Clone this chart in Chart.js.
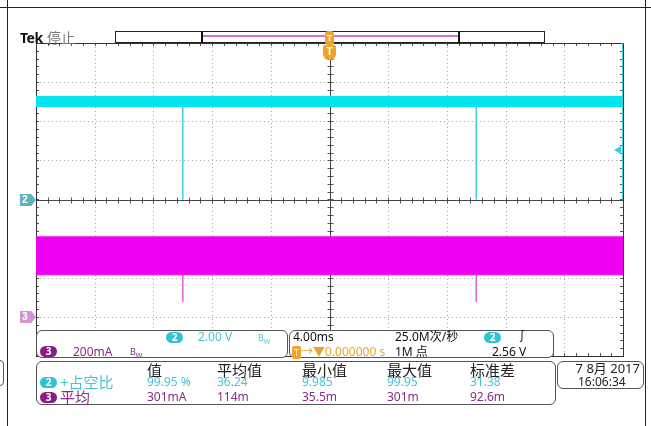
<!DOCTYPE html>
<html>
<head>
<meta charset="utf-8">
<script src="https://cdn.jsdelivr.net/npm/chart.js@4.4.1/dist/chart.umd.min.js"></script>
<style>
  body { margin: 0; background: #fff; }
  #wrap { position: relative; width: 651px; height: 426px; overflow: hidden; background: #fff; }
  #scope { position: absolute; left: 0; top: 0; }
  .t { position: absolute; font: 12px "Noto Sans", "Noto Sans CJK SC", sans-serif; line-height: 14px; white-space: nowrap; }
  .big { font-size: 15px; line-height: 16px; }
  .box { position: absolute; border: 1px solid #555; border-radius: 6px; background: #fff; box-sizing: border-box; }
  .badge { position: absolute; height: 11px; width: 17px; border-radius: 6px; color: #fff; font: bold 10px "Noto Sans", sans-serif; line-height: 11px; text-align: center; }
  .cy { color: #45c6d6; }
  .pu { color: #8a2a8a; }
  .or { color: #e8a52a; }
  .bw { font-size: 9px; }
  .bw sub { font-size: 7px; }
  .hl { position: absolute; background: #222; }
</style>
</head>
<body>
<div id="wrap">
  <canvas id="scope" width="651" height="426"></canvas>

  <!-- frame lines -->
  <div class="hl" style="left:0;top:7px;width:651px;height:1px"></div>
  <div class="hl" style="left:7px;top:0;width:1px;height:426px"></div>
  <div class="hl" style="left:645px;top:0;width:1px;height:426px"></div>
  <div class="box" style="left:-10px;top:360px;width:14px;height:26px;border-radius:4px"></div>

  <!-- header -->
  <div class="t" style="left:20px;top:30px;font-size:14px;line-height:16px;font-weight:bold;color:#111;letter-spacing:-0.5px">Tek</div>
  <div class="t" style="left:47px;top:30px;font-size:14px;line-height:16px;color:#777">停止</div>

  <!-- record bar -->
  <div style="position:absolute;left:115px;top:31px;width:430px;height:12px;border:1px solid #222;box-sizing:border-box;background:#fff"></div>
  <div style="position:absolute;left:201px;top:31px;width:259px;height:12px;border-left:2px solid #111;border-right:2px solid #111;box-sizing:border-box"></div>
  <div style="position:absolute;left:203px;top:35px;width:255px;height:2px;background:#d46fd4"></div>

  <!-- trigger position markers -->
  <div class="t" style="left:325px;top:31px;width:9px;height:14px;background:#f0a22c;border-radius:3px;color:#fff;font:bold 9px sans-serif;line-height:14px;text-align:center">T</div>
  <div class="t" style="left:323px;top:45px;width:13px;height:15px;background:#f0a22c;border-radius:2px 2px 6px 6px;color:#fff;font:bold 10px sans-serif;line-height:14px;text-align:center">T</div>

  <!-- channel markers -->
  <div class="t" style="left:20px;top:194px;width:16px;height:12px;background:#5cb3bb;color:#fff;font:bold 10px sans-serif;line-height:12px;text-align:left;padding-left:2px;box-sizing:border-box;clip-path:polygon(0 0,70% 0,100% 50%,70% 100%,0 100%)">2</div>
  <div class="t" style="left:20px;top:311px;width:16px;height:12px;background:#d394d3;color:#fff;font:bold 10px sans-serif;line-height:12px;text-align:left;padding-left:2px;box-sizing:border-box;clip-path:polygon(0 0,70% 0,100% 50%,70% 100%,0 100%)">3</div>
  <div style="position:absolute;left:614px;top:146px;width:7px;height:8px;background:#2fd0dc;clip-path:polygon(0 50%,100% 0,100% 100%)"></div>

  <!-- vertical settings panel -->
  <div class="box" style="left:36px;top:330px;width:252px;height:28px"></div>
  <div class="badge" style="left:166px;top:332px;background:#2ec4d4">2</div>
  <div class="t cy" style="left:198px;top:330px">2.00 V</div>
  <div class="t cy bw" style="left:258px;top:331px">B<sub>W</sub></div>
  <div class="badge" style="left:40px;top:346px;background:#8a1c8a">3</div>
  <div class="t pu" style="left:73px;top:345px">200mA</div>
  <div class="t pu bw" style="left:130px;top:345px">B<sub>W</sub></div>

  <!-- horizontal / trigger panel -->
  <div class="box" style="left:289px;top:330px;width:265px;height:28px"></div>
  <div class="t" style="left:293px;top:330px;color:#111">4.00ms</div>
  <div class="t" style="left:395px;top:330px;color:#111">25.0M次/秒</div>
  <div class="badge" style="left:484px;top:332px;background:#2ec4d4">2</div>
  <div class="t" style="left:516px;top:330px;color:#111">∫</div>
  <div class="t or" style="left:292px;top:345px"><span style="background:#f0a22c;color:#fff;font-size:9px;padding:0 2px;border-radius:2px">T</span>→▼0.000000 s</div>
  <div class="t" style="left:395px;top:345px;color:#111">1M 点</div>
  <div class="t" style="left:492px;top:345px;color:#111">2.56 V</div>

  <!-- measurement panel -->
  <div class="box" style="left:36px;top:361px;width:520px;height:44px"></div>
  <div class="t big" style="left:147px;top:362px;color:#222">值</div>
  <div class="t big" style="left:217px;top:362px;color:#222">平均值</div>
  <div class="t big" style="left:302px;top:362px;color:#222">最小值</div>
  <div class="t big" style="left:387px;top:362px;color:#222">最大值</div>
  <div class="t big" style="left:470px;top:362px;color:#222">标准差</div>

  <div class="badge" style="left:40px;top:377px;background:#2ec4d4">2</div>
  <div class="t big cy" style="left:60px;top:374px">+占空比</div>
  <div class="t cy" style="left:147px;top:375px">99.95 %</div>
  <div class="t cy" style="left:217px;top:375px">36.24</div>
  <div class="t cy" style="left:302px;top:375px">9.985</div>
  <div class="t cy" style="left:387px;top:375px">99.95</div>
  <div class="t cy" style="left:470px;top:375px">31.38</div>

  <div class="badge" style="left:40px;top:392px;background:#8a1c8a">3</div>
  <div class="t big pu" style="left:60px;top:389px">平均</div>
  <div class="t pu" style="left:147px;top:390px">301mA</div>
  <div class="t pu" style="left:217px;top:390px">114m</div>
  <div class="t pu" style="left:302px;top:390px">35.5m</div>
  <div class="t pu" style="left:387px;top:390px">301m</div>
  <div class="t pu" style="left:470px;top:390px">92.6m</div>

  <!-- date panel -->
  <div class="box" style="left:557px;top:361px;width:87px;height:28px"></div>
  <div class="t" style="left:557px;width:83px;text-align:right;top:361px;color:#222;font-size:13px">7 8月 2017</div>
  <div class="t" style="left:578px;top:375px;color:#222">16:06:34</div>
</div>

<script>
// time axis (ms) and graticule divisions
const timeRangeMs = [-20, 20];
const timePerDivMs = 4;
const vertDivs = [-4, -3, -2, -1, 0, 1, 2, 3, 4];

// channel 2 (voltage, 2.00 V/div, ground at centre)
const ch2VoltsPerDiv = 2.0;
const ch2OffsetDiv = 0;
const ch2BandV = [4.76, 5.27];        // lower / upper edge of the noisy high level
const ch2SpikeTimesMs = [-10.0, 10.0];
const ch2SpikeLowV = 0.0;

// channel 3 (current, 200 mA/div, ground 3 div below centre)
const ch3MaPerDiv = 200;
const ch3OffsetDiv = -3;
const ch3BandMa = [215, 409];
const ch3SpikeTimesMs = [-10.0, 10.0];
const ch3SpikeLowMa = 77;

const CYAN = '#00e6f0';
const CYAN_LIGHT = '#3fd6e4';
const MAGENTA = '#f000f0';
const MAGENTA_LIGHT = '#e466e4';

const ch2 = v => v / ch2VoltsPerDiv + ch2OffsetDiv;
const ch3 = ma => ma / ch3MaPerDiv + ch3OffsetDiv;

function bandDatasets(lowDiv, highDiv, color) {
  return [
    {
      data: [{x: timeRangeMs[0], y: highDiv}, {x: timeRangeMs[1], y: highDiv}],
      borderColor: color, borderWidth: 1, pointRadius: 0, fill: false
    },
    {
      data: [{x: timeRangeMs[0], y: lowDiv}, {x: timeRangeMs[1], y: lowDiv}],
      borderColor: color, borderWidth: 1, pointRadius: 0,
      backgroundColor: color, fill: '-1'
    }
  ];
}

function spikeDatasets(times, topDiv, lowDiv, color) {
  return times.map(t => ({
    data: [{x: t, y: topDiv}, {x: t, y: lowDiv}],
    borderColor: color, borderWidth: 1, pointRadius: 0, fill: false
  }));
}

const datasets = [
  ...bandDatasets(ch2(ch2BandV[0]), ch2(ch2BandV[1]), CYAN),
  ...spikeDatasets(ch2SpikeTimesMs, ch2(ch2BandV[0]), ch2(ch2SpikeLowV), CYAN_LIGHT),
  ...bandDatasets(ch3(ch3BandMa[0]), ch3(ch3BandMa[1]), MAGENTA),
  ...spikeDatasets(ch3SpikeTimesMs, ch3(ch3BandMa[0]), ch3(ch3SpikeLowMa), MAGENTA_LIGHT)
];

// scope graticule: dotted divisions, ticked centre cross, ticked border
const graticule = {
  id: 'graticule',
  beforeDatasetsDraw(chart) {
    const {ctx, chartArea: a, scales: {x, y}} = chart;
    const line = (x1, y1, x2, y2) => { ctx.beginPath(); ctx.moveTo(x1, y1); ctx.lineTo(x2, y2); ctx.stroke(); };
    const snap = p => Math.round(p) + 0.5;
    ctx.save();
    ctx.lineWidth = 1;

    // dotted division lines
    ctx.strokeStyle = '#a8a8a8';
    ctx.setLineDash([1, 3]);
    for (let t = timeRangeMs[0] + timePerDivMs; t < timeRangeMs[1]; t += timePerDivMs) {
      if (t === 0) continue;
      const px = snap(x.getPixelForValue(t));
      line(px, a.top, px, a.bottom);
    }
    vertDivs.forEach(d => {
      if (d === 0 || d === vertDivs[0] || d === vertDivs[vertDivs.length - 1]) return;
      const py = snap(y.getPixelForValue(d));
      line(a.left, py, a.right, py);
    });
    ctx.setLineDash([]);

    // minor ticks
    ctx.strokeStyle = '#555';
    const cx = snap(x.getPixelForValue(0));
    const cy = snap(y.getPixelForValue(0));
    const minorT = timePerDivMs / 5;
    for (let t = timeRangeMs[0]; t <= timeRangeMs[1] + 1e-9; t += minorT) {
      const px = snap(x.getPixelForValue(t));
      line(px, a.top, px, a.top + 3);
      line(px, a.bottom, px, a.bottom - 3);
      line(px, cy - 3, px, cy + 3);
    }
    for (let d = vertDivs[0]; d <= vertDivs[vertDivs.length - 1] + 1e-9; d += 0.2) {
      const py = snap(y.getPixelForValue(d));
      line(a.left, py, a.left + 3, py);
      line(a.right, py, a.right - 3, py);
      line(cx - 3, py, cx + 3, py);
    }

    // centre cross
    ctx.strokeStyle = '#444';
    line(a.left, cy, a.right, cy);
    line(cx, a.top, cx, a.bottom);

    // border
    ctx.strokeStyle = '#333';
    ctx.strokeRect(snap(a.left), snap(a.top), Math.round(a.right - a.left), Math.round(a.bottom - a.top));
    ctx.restore();
  },
  afterDatasetsDraw(chart) {
    // channel 2 trace runs up the right edge of the record
    const {ctx, chartArea: a, scales: {y}} = chart;
    ctx.save();
    ctx.strokeStyle = CYAN_LIGHT;
    ctx.lineWidth = 1;
    ctx.beginPath();
    ctx.moveTo(Math.round(a.right) - 0.5, a.top);
    ctx.lineTo(Math.round(a.right) - 0.5, y.getPixelForValue(ch2(ch2SpikeLowV)));
    ctx.stroke();
    ctx.restore();
  }
};

new Chart(document.getElementById('scope').getContext('2d'), {
  type: 'scatter',
  data: { datasets: datasets.map(d => Object.assign({showLine: true}, d)) },
  options: {
    responsive: false,
    animation: false,
    events: [],
    layout: { padding: { left: 36, right: 28, top: 43, bottom: 70 } },
    plugins: { legend: { display: false }, tooltip: { enabled: false } },
    scales: {
      x: { type: 'linear', min: timeRangeMs[0], max: timeRangeMs[1], display: false },
      y: { type: 'linear', min: vertDivs[0], max: vertDivs[vertDivs.length - 1], display: false }
    }
  },
  plugins: [graticule]
});
</script>
</body>
</html>
